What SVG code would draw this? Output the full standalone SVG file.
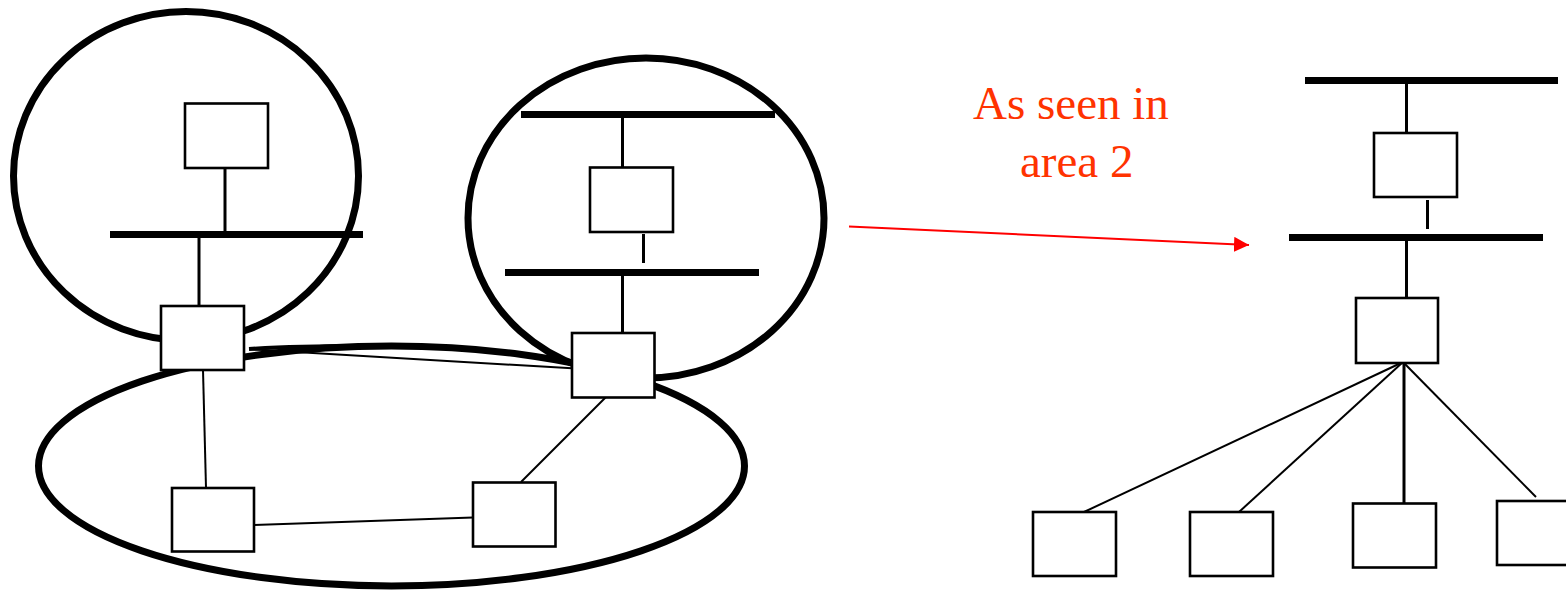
<svg xmlns="http://www.w3.org/2000/svg" width="1566" height="595" viewBox="0 0 1566 595">
<style>
.area{fill:none;stroke:#000;stroke-width:7}
.bar{stroke:#000;stroke-width:7;stroke-linecap:butt}
.box{fill:#fff;stroke:#000;stroke-width:2.6}
.vl{stroke:#000;stroke-width:3}
.ln{stroke:#000;stroke-width:2}
.lbl{font-family:"Liberation Serif","Times New Roman",serif;font-size:47px;fill:#ff3300}
</style>
<defs>
<marker id="arr" markerWidth="15" markerHeight="15" refX="15" refY="7.5" orient="auto" markerUnits="userSpaceOnUse">
<path d="M0,0 L15,7.5 L0,15 Z" fill="#ff0000"/>
</marker>
</defs>
<rect width="1566" height="595" fill="#fff"/>
<g id="areas">
<ellipse id="area1" class="area" cx="186" cy="176" rx="172.5" ry="164.5"/>
<ellipse id="area2" class="area" cx="646" cy="218" rx="178" ry="160"/>
<ellipse id="area0" class="area" cx="391.5" cy="466" rx="353" ry="120"/>
<path d="M249,349 Q300,345.5 380,346" fill="none" stroke="#000" stroke-width="4"/>
</g>
<g id="buses">
<line class="bar" x1="110" y1="234.5" x2="363" y2="234.5"/>
<line class="bar" x1="521" y1="114.5" x2="775" y2="114.5"/>
<line class="bar" x1="505" y1="272.5" x2="759" y2="272.5"/>
<line class="bar" x1="1305" y1="80.5" x2="1558" y2="80.5"/>
<line class="bar" x1="1289" y1="237.5" x2="1543" y2="237.5"/>
</g>
<g id="connectors">
<line class="vl" x1="225" y1="168" x2="225" y2="232"/>
<line class="vl" x1="199" y1="237" x2="199" y2="306"/>
<line class="vl" x1="622.5" y1="117" x2="622.5" y2="167"/>
<line class="vl" x1="643.5" y1="234" x2="643.5" y2="263"/>
<line class="vl" x1="622.5" y1="275" x2="622.5" y2="333"/>
<line class="vl" x1="1406.5" y1="83" x2="1406.5" y2="133"/>
<line class="vl" x1="1427.5" y1="200" x2="1427.5" y2="229"/>
<line class="vl" x1="1406.5" y1="240" x2="1406.5" y2="298"/>
<line class="ln" x1="203" y1="370" x2="206" y2="488"/>
<line class="ln" x1="249.5" y1="349.3" x2="572" y2="368.3"/>
<line class="ln" x1="606" y1="397" x2="521" y2="482"/>
<line class="ln" x1="254" y1="525" x2="473" y2="517.5"/>
<line class="ln" x1="1403" y1="362" x2="1084" y2="512"/>
<line class="ln" x1="1403" y1="362" x2="1239" y2="512"/>
<line class="vl" x1="1404" y1="362" x2="1404" y2="503"/>
<line class="ln" x1="1403" y1="362" x2="1536" y2="497"/>
<line x1="849" y1="226.5" x2="1249" y2="245" stroke="#ff0000" stroke-width="2" marker-end="url(#arr)"/>
</g>
<g id="n1"><rect class="box" x="185" y="103.5" width="83" height="64.5"/></g>
<g id="n2"><rect class="box" x="161" y="306" width="83" height="64"/></g>
<g id="n3"><rect class="box" x="590" y="167.5" width="83" height="64.5"/></g>
<g id="n4"><rect class="box" x="572" y="333" width="82.5" height="64.5"/></g>
<g id="n5"><rect class="box" x="172" y="488" width="82" height="63.5"/></g>
<g id="n6"><rect class="box" x="473" y="482.5" width="82.5" height="64"/></g>
<g id="n7"><rect class="box" x="1374" y="133" width="83" height="64"/></g>
<g id="n8"><rect class="box" x="1356" y="298" width="82" height="65"/></g>
<g id="n9"><rect class="box" x="1033" y="512" width="83" height="64"/></g>
<g id="n10"><rect class="box" x="1190" y="512" width="83" height="64"/></g>
<g id="n11"><rect class="box" x="1353" y="503.5" width="83" height="64"/></g>
<g id="n12"><rect class="box" x="1497" y="501" width="83" height="64"/></g>
<g id="label">
<text class="lbl" x="973" y="119">As seen in</text>
<text class="lbl" x="1020" y="176.5">area 2</text>
</g>
</svg>
